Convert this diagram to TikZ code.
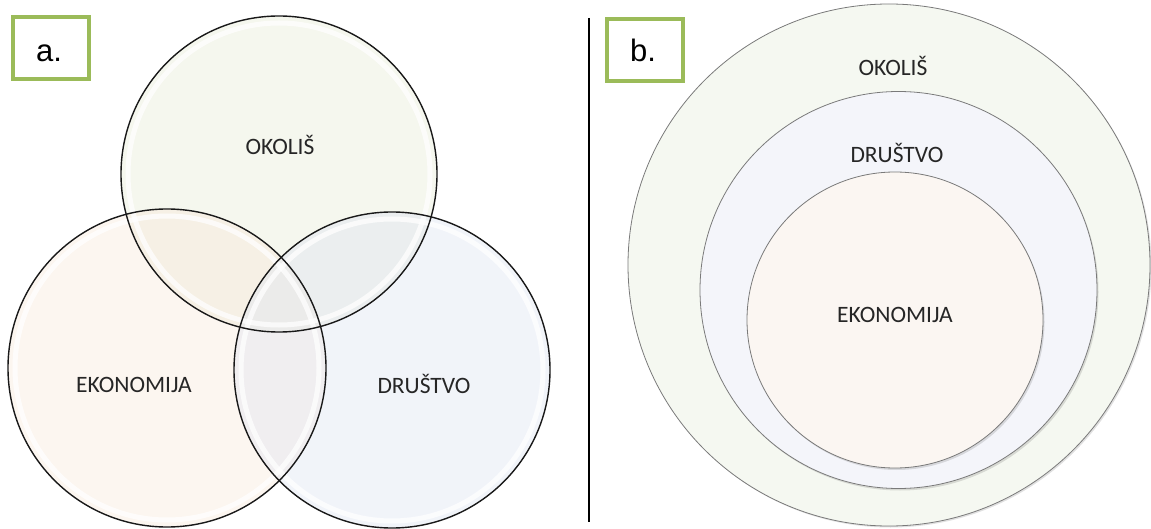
\documentclass[tikz,border=0pt]{standalone}
\usepackage{fontspec}
\setmainfont{Carlito}
\newfontfamily\arialf{Liberation Sans}
\definecolor{frame}{HTML}{9BBB59}
\definecolor{envA}{HTML}{E6EAD4}
\definecolor{ecoA}{HTML}{F8E8DA}
\definecolor{socA}{HTML}{DDE3F1}
\definecolor{envB}{HTML}{F5F8F1}
\definecolor{socB}{HTML}{F4F5FA}
\definecolor{ecoB}{HTML}{FBF6F2}
\definecolor{rimB}{HTML}{7A7A7A}
\tikzset{
  venn/.style={circle, inner sep=0pt, draw=none, fill opacity=0.4},
  nest/.style={circle, inner sep=0pt, draw=rimB, line width=0.8pt},
  shade/.style={circle, inner sep=0pt, fill=black, fill opacity=0.12, draw=none},
  glint/.style={draw=white, line width=5pt, opacity=0.75},
  rim/.style={draw=black!90, line width=1.4pt},
  lbl/.style={anchor=base, font=\fontsize{23.5}{26}\selectfont, text=black!85},
  tag/.style={draw=frame, line width=4pt},
  tagtext/.style={anchor=base, font=\arialf\fontsize{31}{34}\selectfont}
}
\begin{document}
\begin{tikzpicture}[x=1pt,y=-1pt]
\useasboundingbox (0,0) rectangle (1151,529);
% ---------- a. Venn diagram ----------
\node[venn, fill=envA, minimum size=316pt] (okolisA) at (279,174) {};
\node[venn, fill=ecoA, minimum size=318pt] (ekoA) at (167,368) {};
\node[venn, fill=socA, minimum size=316pt] (drustvoA) at (392,370) {};
\draw[glint] (279,174) circle[radius=151];
\draw[glint] (167,368) circle[radius=152];
\draw[glint] (392,370) circle[radius=151];
\draw[rim] (279,174) circle[radius=158];
\draw[rim] (167,368) circle[radius=159];
\draw[rim] (392,370) circle[radius=158];
\node[lbl] (tOkA) at (280,155) {OKOLIŠ};
\node[lbl] (tEkA) at (134,392) {EKONOMIJA};
\node[lbl] (tDrA) at (424,393) {DRUŠTVO};
\draw[tag] (13,17) rectangle (89,79);
\node[tagtext] (tagA) at (49,62) {a.};
% ---------- divider ----------
\coordinate (divTop) at (589,18);
\coordinate (divBot) at (589,522);
\draw[line width=1.5pt] (divTop) -- (divBot);
% ---------- b. nested circles ----------
\node[shade, minimum size=522pt] (shOut) at (890.5,266.5) {};
\node[nest, fill=envB, minimum size=522pt] (okolisB) at (889,265) {};
\node[shade, minimum size=397pt] (shMid) at (900,292) {};
\node[nest, fill=socB, minimum size=397pt] (drustvoB) at (898.5,290) {};
\node[shade, minimum size=296pt] (shIn) at (896.5,322) {};
\node[nest, fill=ecoB, minimum size=296pt] (ekoB) at (895,320) {};
\node[lbl] (tOkB) at (893,76) {OKOLIŠ};
\node[lbl] (tDrB) at (897,163) {DRUŠTVO};
\node[lbl] (tEkB) at (895,323) {EKONOMIJA};
\draw[tag] (607,19) rectangle (683,81);
\node[tagtext] (tagB) at (643,62) {b.};
\end{tikzpicture}
\end{document}
